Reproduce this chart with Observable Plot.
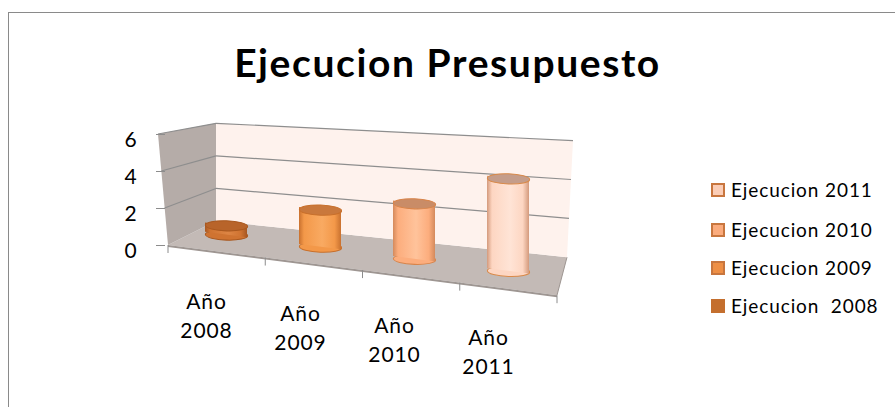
<!DOCTYPE html>
<html>
<head>
<meta charset="utf-8">
<script src="https://cdn.jsdelivr.net/npm/d3@7"></script>
<script src="https://cdn.jsdelivr.net/npm/@observablehq/plot@0.6"></script>
<style>
  body { margin: 0; background: #fff; font-family: Lato, "Open Sans", sans-serif; }
  #wrap { position: relative; width: 895px; height: 407px; overflow: hidden; background: #fff; }
  #border { position: absolute; left: 8px; top: 12px; width: 1000px; height: 1000px;
            border-left: 1px solid #8a8a8a; border-top: 1px solid #8a8a8a; }
  #title { position: absolute; left: 0; width: 895px; top: 38px; line-height: 48px; text-align: center;
           font-weight: bold; font-size: 39px; letter-spacing: 1.6px; color: #000; }
  #chart { position: absolute; left: 0; top: 100px; }
  #chart svg text { letter-spacing: 0.9px; }
  .leg { position: absolute; left: 711px; height: 22px; line-height: 22px; font-size: 19px; letter-spacing: 0.9px; color: #000; white-space: pre; }
  .sw { position: absolute; left: 0; top: 4px; width: 10px; height: 10px; border: 2px solid; }
  .lt { position: absolute; left: 20px; top: 0; }
</style>
</head>
<body>
<div id="wrap">
  <div id="border"></div>
  <div id="title">Ejecucion Presupuesto</div>
  <div id="chart"></div>
  <div id="legend"></div>
</div>
<script>
// ---- data ----
const categories = ["Año 2008", "Año 2009", "Año 2010", "Año 2011"];
const seriesNames = ["Ejecucion  2008", "Ejecucion 2009", "Ejecucion 2010", "Ejecucion 2011"];
const values = [0.5, 2, 3, 5];
const yTicks = [0, 2, 4, 6];
const yDomain = [0, 6];
// ---- colours per series ----
const bodyColors  = ["#cf7331", "#f39849", "#fcad7d", "#fdd6c2"];
const lightColors = ["#dd8544", "#f9aa62", "#ffc39b", "#ffe4d6"];
const edgeColors  = ["#a65722", "#c9712f", "#d48a5c", "#d49a7c"];
const topColors   = ["#b8642a", "#c9783c", "#c98c67", "#c59d8a"];
const strokeColors= ["#a9581f", "#c8702c", "#d8844a", "#d98a4a"];
const legendFill  = ["#c46f2e", "#ee8f45", "#fbab7c", "#fbcdb6"];
const legendEdge  = ["#c46f2e", "#c8763e", "#c8763e", "#c8763e"];

// ---- layout ----
const W = 620, H = 307, ML = 168, MR = 63, MT = 34, MB = 162;
const slope = 0.129;           // floor slope of the 3D view
const padIn = 0.55, padOut = 0.344;
const n = categories.length;
const step = (W - ML - MR) / (n - padIn + 2 * padOut);
const bw = step * (1 - padIn);
const barDx = 5, barDy = -18;
const counter = slope * 0.75;  // undo most of the skew on the ellipses

const ellipse = {
  draw(ctx, size) {
    const rx = Math.sqrt(size / Math.PI), ry = rx * 0.24, k = 0.5523;
    const P = (x, yv) => [x, yv - counter * x];
    const m = (...a) => a.flatMap(([x, yv]) => P(x, yv));
    ctx.moveTo(...P(rx, 0));
    ctx.bezierCurveTo(...m([rx, ry * k], [rx * k, ry], [0, ry]));
    ctx.bezierCurveTo(...m([-rx * k, ry], [-rx, ry * k], [-rx, 0]));
    ctx.bezierCurveTo(...m([-rx, -ry * k], [-rx * k, -ry], [0, -ry]));
    ctx.bezierCurveTo(...m([rx * k, -ry], [rx, -ry * k], [rx, 0]));
    ctx.closePath();
  }
};

const rows = categories.map((c, i) => ({cat: c, series: seriesNames[i], value: values[i]}));

const marks = [
  Plot.axisY({ticks: yTicks, tickSize: 9, tickFormat: () => "", dx: -3, stroke: "#8c8c8c"}),
  Plot.axisY({ticks: yTicks, tickSize: 0, tickPadding: 31, dy: 6, fontSize: 21, fill: "#000", tickFormat: d3.format("d")}),
  Plot.axisX({tickSize: 0, tickPadding: 0, dy: 38, dx: -15, fontSize: 21, lineHeight: 1.38,
              tickFormat: d => d.replace(" ", "\n"), fill: "#000"})
];
rows.forEach((d, i) => {
  marks.push(Plot.dot([d], {x: "cat", y: () => 0, r: bw / 2, symbol: ellipse, fill: bodyColors[i],
                             stroke: strokeColors[i], strokeWidth: 1, dx: barDx, dy: barDy}));
  marks.push(Plot.barY([d], {x: "cat", y: "value", fill: `url(#cyl${i})`, dx: barDx, dy: barDy}));
  marks.push(Plot.dot([d], {x: "cat", y: "value", r: bw / 2, symbol: ellipse, fill: topColors[i],
                             stroke: strokeColors[i], strokeWidth: 1, dx: barDx, dy: barDy}));
});

const chart = Plot.plot({
  width: W, height: H,
  marginLeft: ML, marginRight: MR, marginTop: MT, marginBottom: MB,
  style: {fontFamily: "Lato, 'Open Sans', sans-serif", fontSize: "21px", color: "#000", background: "transparent", overflow: "visible"},
  x: {type: "band", domain: categories, paddingInner: padIn, paddingOuter: padOut, label: null},
  y: {domain: yDomain, label: null},
  marks
});
document.getElementById("chart").appendChild(chart);

// ---- post-render decoration: 3D walls and floor, derived from Plot's scales ----
const NS = "http://www.w3.org/2000/svg";
const svg = d3.select(chart);
const ys = chart.scale("y");
const y = d3.scaleLinear(ys.domain, ys.range);
const X0 = ML, X1 = W - MR, Yb = y(0);
const FBR = [X1, Yb + slope * (X1 - X0)];
const LB = [X0 + 48, Yb - 24], kL = 0.88;
const RB = [X1 + 10, FBR[1] - 38], kR = 1.05;
const front = v => [X0 - 10 * v / 6, y(v)];
const backL = v => [LB[0], LB[1] - kL * (Yb - y(v))];
const backR = v => [RB[0] + v, RB[1] - kR * (Yb - y(v))];

// gradients
const defs = svg.insert("defs", ":first-child");
bodyColors.forEach((c, i) => {
  const g = defs.append("linearGradient").attr("id", `cyl${i}`).attr("x1", "0").attr("x2", "1").attr("y1", "0").attr("y2", "0");
  [[0, edgeColors[i]], [0.12, bodyColors[i]], [0.55, lightColors[i]], [0.85, bodyColors[i]], [1, edgeColors[i]]]
    .forEach(([o, col]) => g.append("stop").attr("offset", o).attr("stop-color", col));
});

const deco = svg.insert("g", "g").attr("aria-label", "walls");
const poly = pts => pts.map(p => p.join(",")).join(" ");
deco.append("polygon").attr("points", poly([[X0, Yb], FBR, RB, LB])).attr("fill", "#c3bab6");
deco.append("polygon").attr("points", poly([[X0, Yb], FBR, [FBR[0], FBR[1] + 2], [X0, Yb + 2]])).attr("fill", "#9e9692");
deco.append("line").attr("x1", FBR[0]).attr("y1", FBR[1]).attr("x2", RB[0]).attr("y2", RB[1]).attr("stroke", "#9e9692");
deco.append("polygon").attr("points", poly([front(0), front(6), backL(6), backL(0)])).attr("fill", "#b5aca8");
deco.append("polygon").attr("points", poly([backL(0), backL(6), backR(6), backR(0)])).attr("fill", "#fef2ed");
yTicks.filter(v => v > 0).forEach(v => {
  deco.append("line").attr("x1", front(v)[0]).attr("y1", front(v)[1]).attr("x2", backL(v)[0]).attr("y2", backL(v)[1])
    .attr("stroke", "#8e8e8e").attr("stroke-width", 1.2);
  deco.append("line").attr("x1", backL(v)[0]).attr("y1", backL(v)[1]).attr("x2", backR(v)[0]).attr("y2", backR(v)[1])
    .attr("stroke", "#8e8e8e").attr("stroke-width", 1.2);
});
for (let k = 0; k <= n; k++) {
  const x = X0 + k * (X1 - X0) / n, yy = Yb + slope * (x - X0);
  deco.append("line").attr("x1", x).attr("y1", yy).attr("x2", x).attr("y2", yy + 8).attr("stroke", "#8c8c8c");
}

// skew the bars/cylinders to follow the floor
svg.selectAll('g[aria-label="bar"], g[aria-label="dot"]').each(function() {
  const wrap = document.createElementNS(NS, "g");
  wrap.setAttribute("transform", `matrix(1,${slope},0,1,0,${-slope * X0})`);
  this.parentNode.insertBefore(wrap, this);
  wrap.appendChild(this);
});
// shift category labels down along the floor edge
const sr = chart.getBoundingClientRect();
svg.selectAll('g[aria-label="x-axis tick label"] text').each(function() {
  const r = this.getBoundingClientRect();
  const cx = r.left + r.width / 2 - sr.left;
  const wrap = document.createElementNS(NS, "g");
  wrap.setAttribute("transform", `translate(0,${slope * (cx - X0)})`);
  this.parentNode.insertBefore(wrap, this);
  wrap.appendChild(this);
});

// ---- legend ----
const legend = document.getElementById("legend");
const legendTops = [179, 219, 257, 295];
[3, 2, 1, 0].forEach((i, k) => {
  const item = document.createElement("div");
  item.className = "leg";
  item.style.top = legendTops[k] + "px";
  item.innerHTML = `<div class="sw" style="background:${legendFill[i]};border-color:${legendEdge[i]}"></div><div class="lt"></div>`;
  item.querySelector(".lt").textContent = seriesNames[i];
  legend.appendChild(item);
});
</script>
</body>
</html>
